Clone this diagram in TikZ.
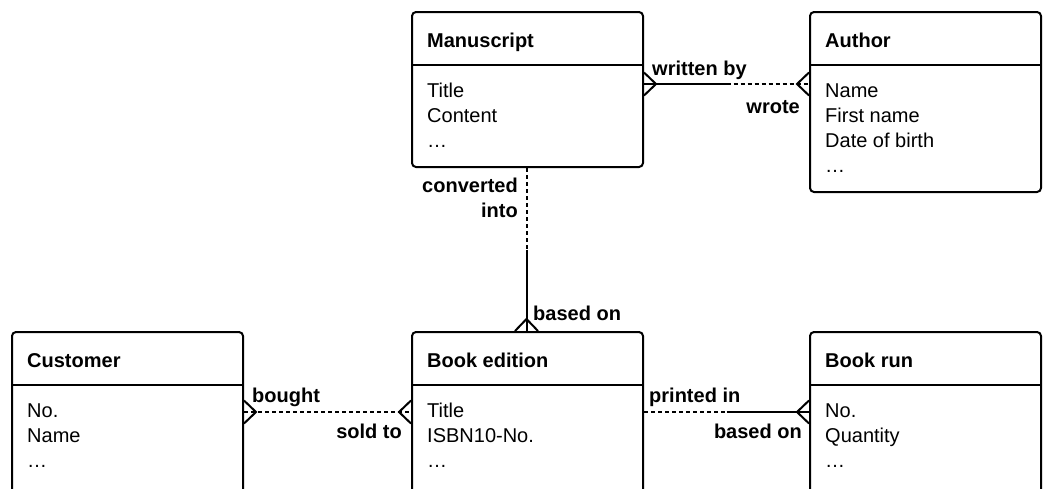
\documentclass[tikz,border=0pt]{standalone}
\usepackage{fontspec}
\setmainfont{Liberation Sans}
\usetikzlibrary{calc}
\newcommand\efont{\fontsize{20}{25}\selectfont}
\tikzset{
  ent/.style={draw, line width=2pt, rounded corners=4pt, anchor=north west, inner sep=0pt, minimum width=231pt},
  ttl/.style={anchor=base west, inner sep=0pt, font=\efont\bfseries},
  attr/.style={anchor=base west, inner sep=0pt, align=left, font=\efont},
  lbl/.style={inner sep=0pt, font=\efont\bfseries},
  conn/.style={line width=2pt},
  dsh/.style={conn, dash pattern=on 4pt off 3pt},
  crow/.pic={\draw[conn] (0,-11.5) -- (12,0) -- (0,11.5);}
}
\begin{document}
\begin{tikzpicture}[x=1pt,y=-1pt]
\useasboundingbox (0,0) rectangle (1044,488);
\clip (0,0) rectangle (1044,488);
% entities
\node[ent, minimum height=155pt] (ms) at (411,11) {};
\node[ent, minimum height=180pt] (au) at (809,11) {};
\node[ent, minimum height=200pt] (cu) at (11,331) {};
\node[ent, minimum height=200pt] (be) at (411,331) {};
\node[ent, minimum height=200pt] (br) at (809,331) {};
% header separators
\draw[conn] (ms.west |- 0,65) -- (ms.east |- 0,65);
\draw[conn] (au.west |- 0,65) -- (au.east |- 0,65);
\draw[conn] (cu.west |- 0,385) -- (cu.east |- 0,385);
\draw[conn] (be.west |- 0,385) -- (be.east |- 0,385);
\draw[conn] (br.west |- 0,385) -- (br.east |- 0,385);
% titles
\node[ttl] (mst) at (427,47) {Manuscript};
\node[ttl] (aut) at (825,47) {Author};
\node[ttl] (cut) at (27,367) {Customer};
\node[ttl] (bet) at (427,367) {Book edition};
\node[ttl] (brt) at (825,367) {Book run};
% attributes (base anchor = baseline of last line)
\node[attr] (msa) at (427,147) {Title\\Content\\…};
\node[attr] (aua) at (825,172) {Name\\First name\\Date of birth\\…};
\node[attr] (cua) at (27,467) {No.\\Name\\…};
\node[attr] (bea) at (427,467) {Title\\ISBN10-No.\\…};
\node[attr] (bra) at (825,467) {No.\\Quantity\\…};
% connector: written by / wrote
\coordinate (w1) at (ms.east |- 0,84);
\coordinate (w2) at (au.west |- 0,84);
\draw[conn] (w1) -- ($(w1)!0.5!(w2)$);
\draw[dsh] ($(w1)!0.5!(w2)$) -- (w2);
\pic at (w1) {crow};
\pic[rotate=180] at (w2) {crow};
% connector: converted into / based on
\coordinate (c1) at (ms.south -| 526.5,0);
\coordinate (c2) at (be.north -| 526.5,0);
\draw[dsh] (c1) -- ($(c1)!0.5!(c2)$);
\draw[conn] ($(c1)!0.5!(c2)$) -- (c2);
\pic[rotate=90] at (c2) {crow};
% connector: bought / sold to
\coordinate (b1) at (cu.east |- 0,412);
\coordinate (b2) at (be.west |- 0,412);
\draw[dsh] (b1) -- (b2);
\pic at (b1) {crow};
\pic[rotate=180] at (b2) {crow};
% connector: printed in / based on
\coordinate (p1) at (be.east |- 0,412);
\coordinate (p2) at (br.west |- 0,412);
\draw[dsh] (p1) -- ($(p1)!0.5!(p2)$);
\draw[conn] ($(p1)!0.5!(p2)$) -- (p2);
\pic[rotate=180] at (p2) {crow};
% labels
\node[lbl, anchor=base west] (l1) at (652,75) {written by};
\node[lbl, anchor=base east] (l2) at (800,113) {wrote};
\node[lbl, anchor=base east, align=right] (l3) at (518,217) {converted\\into};
\node[lbl, anchor=base west] (l4) at (533,320) {based on};
\node[lbl, anchor=base west] (l5) at (252,402) {bought};
\node[lbl, anchor=base east] (l6) at (402,438) {sold to};
\node[lbl, anchor=base west] (l7) at (649,402) {printed in};
\node[lbl, anchor=base east] (l8) at (802,438) {based on};
\end{tikzpicture}
\end{document}
